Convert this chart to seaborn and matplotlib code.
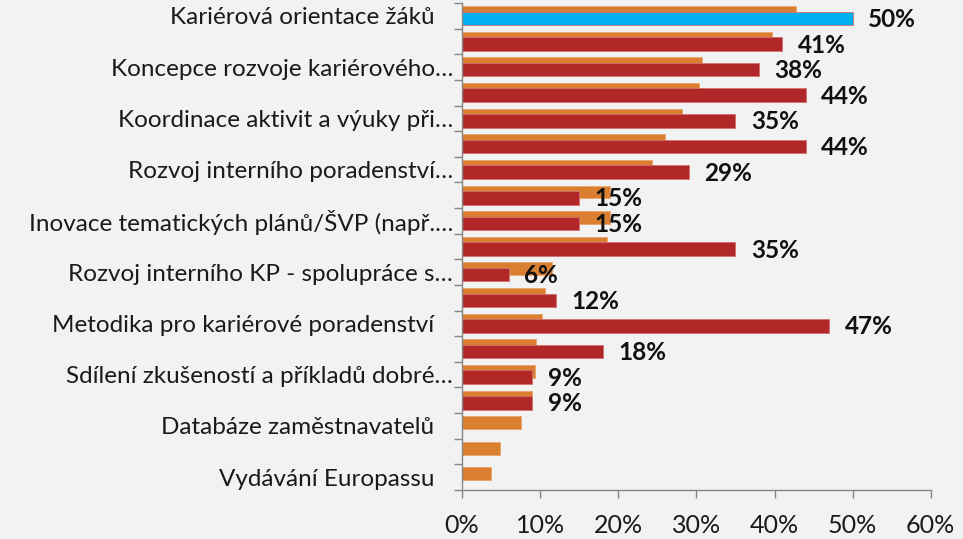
import numpy as np
import pandas as pd
import matplotlib
matplotlib.use('Agg')
import matplotlib.pyplot as plt
import seaborn as sns

# Axis labels - the original chart only prints every other row label
row_labels = [
    "Kariérová orientace žáků", "",
    "Koncepce rozvoje kariérového…", "",
    "Koordinace aktivit a výuky při…", "",
    "Rozvoj interního poradenství…", "",
    "Inovace tematických plánů/ŠVP (např.…", "",
    "Rozvoj interního KP - spolupráce s…", "",
    "Metodika pro kariérové poradenství", "",
    "Sdílení zkušeností a příkladů dobré…", "",
    "Databáze zaměstnavatelů", "",
    "Vydávání Europassu",
]
# orange (background) series, in %
orange_vals = [42.7, 39.7, 30.7, 30.3, 28.2, 26.0, 24.3, 19.0, 19.0, 18.6,
               11.5, 10.6, 10.2, 9.5, 9.3, 8.9, 7.6, 4.8, 3.7]
# red (front) series with data labels, in %
red_vals = [50, 41, 38, 44, 35, 44, 29, 15, 15, 35, 6, 12, 47, 18, 9, 9]
red_kind = ['highlight'] + ['base'] * (len(red_vals) - 1)
x_ticks = [0, 10, 20, 30, 40, 50, 60]

BG = '#F2F2F2'
ORANGE = '#DA7F31'
RED = '#B22828'
BLUE = '#00B0F0'
AXIS = '#868686'

sns.set_theme(style='white')
plt.rcParams['font.family'] = ['Lato', 'DejaVu Sans']

fig = plt.figure(figsize=(9.63, 5.39), dpi=100, facecolor=BG)
ax = fig.add_axes([0.4798, 0.0909, 0.4867, 0.9035])
ax.set_facecolor(BG)

rows = np.arange(len(orange_vals))
df_o = pd.DataFrame({'val': orange_vals, 'pos': rows - 0.13})
sns.barplot(data=df_o, x='val', y='pos', orient='h', native_scale=True,
            width=0.5, color=ORANGE, saturation=1, edgecolor='#E9A46A',
            linewidth=0.6, ax=ax)

df_r = pd.DataFrame({'val': red_vals, 'pos': np.arange(len(red_vals)) + 0.1,
                     'kind': red_kind})
sns.barplot(data=df_r, x='val', y='pos', hue='kind', orient='h', native_scale=True,
            width=0.53, palette={'highlight': BLUE, 'base': RED}, saturation=1,
            dodge=False, legend=False, edgecolor='#D07070', linewidth=0.6, ax=ax)

# bold value labels next to the red bars
for i, v in enumerate(red_vals):
    ax.annotate(f'{v}%', xy=(v, i + 0.14), xytext=(11, 0), textcoords='offset points',
                ha='left', va='center', fontsize=17.5, fontweight='bold', color='#111111')

ax.set_xlim(0, 60)
ax.set_ylim(len(orange_vals) - 0.5, -0.5)
ax.set_xticks(x_ticks)
ax.set_xticklabels([f'{t}%' for t in x_ticks], fontsize=18, color='#1a1a1a')

# tick marks between rows, labels at row centres
ax.set_yticks(np.arange(-0.5, len(orange_vals), 1))
ax.set_yticklabels([])
ax.set_yticks(rows, minor=True)
shown = [lab if lab.endswith('…') or lab == '' else lab + '   ' for lab in row_labels]
ax.set_yticklabels(shown, minor=True, fontsize=17.5, color='#1a1a1a')
ax.tick_params(axis='y', which='minor', length=0, pad=6.5)
ax.tick_params(axis='y', which='major', direction='out', length=6, width=1, color=AXIS, left=True)
ax.tick_params(axis='x', direction='out', length=6, width=1, color=AXIS, bottom=True, pad=11)
ax.set_xlabel('')
ax.set_ylabel('')

for side in ['top', 'right']:
    ax.spines[side].set_visible(False)
for side in ['left', 'bottom']:
    ax.spines[side].set_color(AXIS)
    ax.spines[side].set_linewidth(1)

fig.savefig('out.png', dpi=100, facecolor=BG)
